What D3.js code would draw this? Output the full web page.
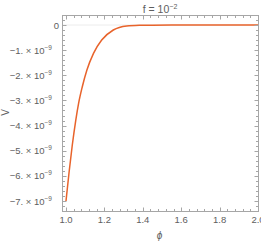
<!DOCTYPE html>
<html>
<head>
<meta charset="utf-8">
<script src="https://cdn.jsdelivr.net/npm/d3@7"></script>
<style>
  body { margin: 0; background: #fff; }
  svg text { font-family: "Liberation Sans", Arial, sans-serif; fill: #5e5e5e; }
</style>
</head>
<body>
<svg id="chart" width="261" height="241"></svg>
<script>
// values (V in units of 1e-9)
var phiValues = [1.000, 1.0156, 1.0328, 1.051, 1.0656, 1.0849, 1.1089, 1.1432, 1.1859, 1.2464, 1.3161, 1.3854, 1.45, 1.55, 1.7, 1.85, 2.0];
var vValues = [-7.00, -5.886, -4.773, -3.779, -3.114, -2.454, -1.790, -1.126, -0.597, -0.199, -0.040, -0.012, -0.005, -0.001, 0, 0, 0];
var xTicks = [1.0, 1.2, 1.4, 1.6, 1.8, 2.0];
var yTicks = [0, -1, -2, -3, -4, -5, -6, -7];
var titleText = "f = 10";
var titleExp = "\u22122";

var frame = { left: 62, right: 258, top: 15, bottom: 211 };

var svg = d3.select("#chart");

var x = d3.scaleLinear().domain([1, 2]).range([66, 258]);
var y = d3.scaleLinear().domain([-7, 0]).range([201, 25]);

// light zero axis
svg.append("line")
  .attr("x1", frame.left).attr("x2", frame.right)
  .attr("y1", y(0)).attr("y2", y(0))
  .attr("stroke", "#ececec").attr("stroke-width", 1);

// curve
var line = d3.line()
  .x(function (d) { return x(d[0]); })
  .y(function (d) { return y(d[1]); })
  .curve(d3.curveMonotoneX);

svg.append("path")
  .datum(d3.zip(phiValues, vValues))
  .attr("fill", "none")
  .attr("stroke", "#e8632b")
  .attr("stroke-width", 1.5)
  .attr("d", line);

// frame
svg.append("rect")
  .attr("x", frame.left + 0.5).attr("y", frame.top + 0.5)
  .attr("width", frame.right - frame.left).attr("height", frame.bottom - frame.top)
  .attr("fill", "none").attr("stroke", "#a6a6a6").attr("stroke-width", 1);

// ticks (major + minor), inside all four sides
var ticks = svg.append("g").attr("stroke", "#a6a6a6").attr("stroke-width", 1);

var xMinor = d3.range(1, 2.0001, 0.04);
xMinor.forEach(function (v) {
  var major = xTicks.some(function (t) { return Math.abs(t - v) < 1e-6; });
  var len = major ? 4 : 2.5;
  var px = Math.round(x(v)) + 0.5;
  ticks.append("line").attr("x1", px).attr("x2", px)
    .attr("y1", frame.bottom + 0.5).attr("y2", frame.bottom + 0.5 - len);
  ticks.append("line").attr("x1", px).attr("x2", px)
    .attr("y1", frame.top + 0.5).attr("y2", frame.top + 0.5 + len);
});

var yMinor = d3.range(-7.2, 0.3, 0.2);
yMinor.forEach(function (v) {
  var py = Math.round(y(v)) + 0.5;
  if (py < frame.top || py > frame.bottom) return;
  var major = yTicks.some(function (t) { return Math.abs(t - v) < 1e-6; });
  var len = major ? 4 : 2.5;
  ticks.append("line").attr("y1", py).attr("y2", py)
    .attr("x1", frame.left + 0.5).attr("x2", frame.left + 0.5 + len);
  ticks.append("line").attr("y1", py).attr("y2", py)
    .attr("x1", frame.right + 0.5).attr("x2", frame.right + 0.5 - len);
});

// x tick labels
svg.append("g").selectAll("text")
  .data(xTicks).enter().append("text")
  .attr("x", function (d) { return x(d); })
  .attr("y", 223)
  .attr("text-anchor", "middle")
  .attr("font-size", 9.5)
  .text(function (d) { return d.toFixed(1); });

// y tick labels
var yl = svg.append("g").selectAll("text")
  .data(yTicks).enter().append("text")
  .attr("x", function (d) { return d === 0 ? 59 : 52; })
  .attr("y", function (d) { return y(d) + 3.5; })
  .attr("text-anchor", "end")
  .attr("font-size", 9.5);

yl.each(function (d) {
  var t = d3.select(this);
  if (d === 0) { t.text("0"); return; }
  t.append("tspan").text("\u2212" + Math.abs(d) + ". \u00d7 10");
  t.append("tspan").attr("dy", -4).attr("font-size", 6.5).text("\u22129");
});

// title
var title = svg.append("text")
  .attr("x", 160).attr("y", 12.5)
  .attr("text-anchor", "middle")
  .attr("font-size", 10.5);
title.append("tspan").text(titleText);
title.append("tspan").attr("dy", -4).attr("font-size", 7).text(titleExp);

// axis labels
svg.append("text")
  .attr("transform", "translate(8.5,112.5) rotate(-90)")
  .attr("text-anchor", "middle")
  .attr("font-size", 10)
  .text("V");

svg.append("text")
  .attr("x", 159.5).attr("y", 239)
  .attr("text-anchor", "middle")
  .attr("font-size", 10)
  .attr("font-style", "italic")
  .text("\u03d5");
</script>
</body>
</html>
